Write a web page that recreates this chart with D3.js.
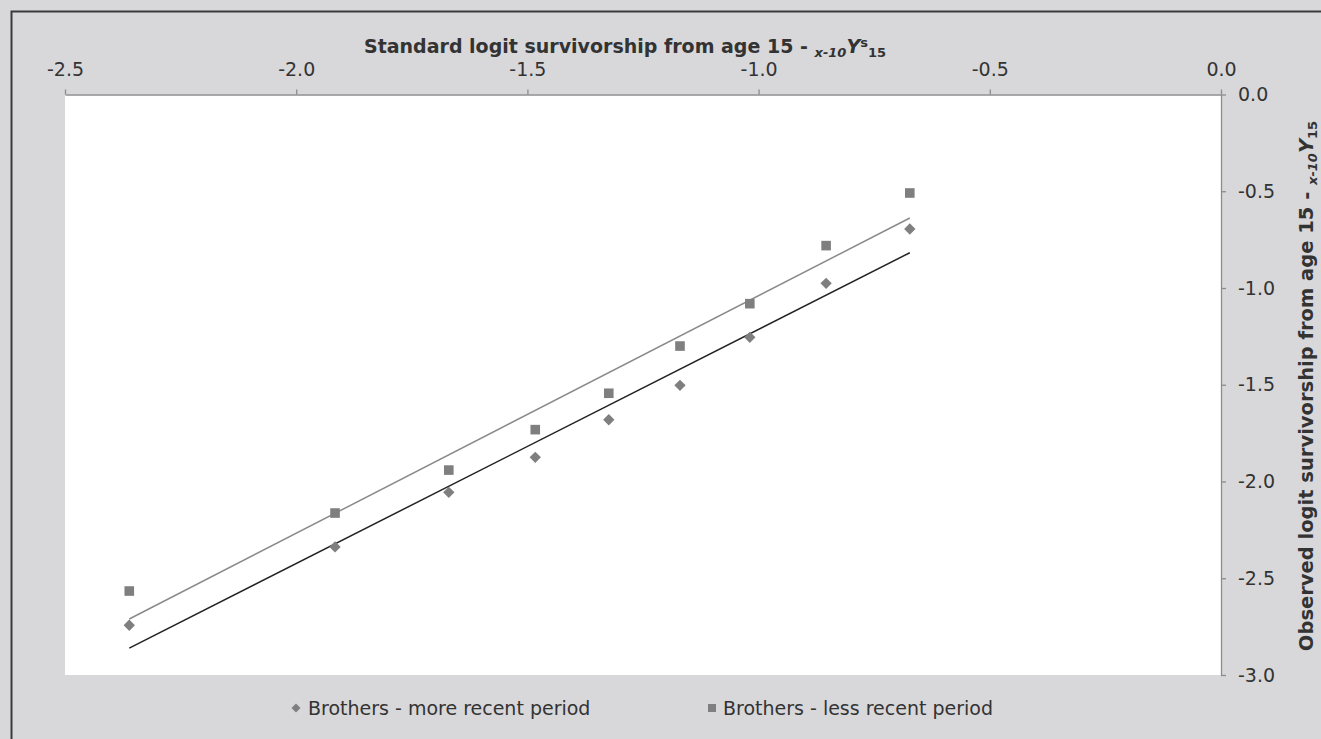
<!DOCTYPE html>
<html>
<head>
<meta charset="utf-8">
<script src="https://cdn.jsdelivr.net/npm/d3@7"></script>
<style>
  body { margin: 0; background: #ffffff; }
  text { font-family: "DejaVu Sans", Verdana, sans-serif; fill: #333333; }
</style>
</head>
<body>
<svg id="chart" width="1321" height="739"></svg>
<script>
// Standard logit survivorship from age 15 (x values shared by both series)
const stdLogit   = [-2.361, -1.916, -1.670, -1.483, -1.324, -1.170, -1.019, -0.854, -0.673];
// Observed logit survivorship from age 15
const moreRecent = [-2.743, -2.338, -2.056, -1.875, -1.681, -1.503, -1.255, -0.976, -0.695];
const lessRecent = [-2.566, -2.163, -1.941, -1.732, -1.544, -1.300, -1.081, -0.781, -0.509];
const seriesNames = ["Brothers - more recent period", "Brothers - less recent period"];
const xTicks = [-2.5, -2.0, -1.5, -1.0, -0.5, 0.0];
const yTicks = [0.0, -0.5, -1.0, -1.5, -2.0, -2.5, -3.0];

const W = 1321, H = 739;
const plot = { left: 65, right: 1221, top: 94.5, bottom: 675 };
const FS = 19;

const svg = d3.select("#chart");

// chart area background and frame
svg.append("rect").attr("x", 0).attr("y", 0).attr("width", W).attr("height", H).attr("fill", "#d8d8da");
svg.append("path")
  .attr("d", `M11.5,${H} L11.5,11.5 L${W},11.5`)
  .attr("fill", "none").attr("stroke", "#3a3a3a").attr("stroke-width", 2);

// plot area
svg.append("rect")
  .attr("x", plot.left).attr("y", plot.top)
  .attr("width", plot.right - plot.left).attr("height", plot.bottom - plot.top)
  .attr("fill", "#ffffff");

const x = d3.scaleLinear().domain([-2.5, 0]).range([plot.left, plot.right]);
const y = d3.scaleLinear().domain([-3, 0]).range([plot.bottom, plot.top]);
const fmt = d => d.toFixed(1);

// top axis
const gx = svg.append("g").attr("transform", `translate(0,${plot.top})`)
  .call(d3.axisTop(x).tickValues(xTicks).tickFormat(fmt).tickSizeInner(5).tickSizeOuter(0).tickPadding(13.5));
// right axis
const gy = svg.append("g").attr("transform", `translate(${plot.right},0)`)
  .call(d3.axisRight(y).tickValues(yTicks).tickFormat(fmt).tickSizeInner(5).tickSizeOuter(0).tickPadding(12));

[gx, gy].forEach(g => {
  g.select(".domain").attr("stroke", "#8c8c8c").attr("stroke-width", 1.3);
  g.selectAll(".tick line").attr("stroke", "#8c8c8c").attr("stroke-width", 1.3);
  g.selectAll(".tick text").attr("font-size", FS).attr("font-family", "DejaVu Sans").attr("fill", "#333");
});

// least-squares trendline
function fit(xs, ys) {
  const mx = d3.mean(xs), my = d3.mean(ys);
  let sxy = 0, sxx = 0;
  xs.forEach((v, i) => { sxy += (v - mx) * (ys[i] - my); sxx += (v - mx) * (v - mx); });
  const slope = sxy / sxx;
  return v => my + slope * (v - mx);
}
const xExt = d3.extent(stdLogit);
const series = [
  { name: seriesNames[0], ys: moreRecent, line: "#222222", marker: "diamond" },
  { name: seriesNames[1], ys: lessRecent, line: "#8a8a8a", marker: "square" }
];

series.forEach(s => {
  const f = fit(stdLogit, s.ys);
  svg.append("line")
    .attr("x1", x(xExt[0])).attr("y1", y(f(xExt[0])))
    .attr("x2", x(xExt[1])).attr("y2", y(f(xExt[1])))
    .attr("stroke", s.line).attr("stroke-width", 1.5);
});

const diamond = d3.symbol().type(d3.symbolSquare).size(64);
function drawMarker(g, type, cx, cy) {
  if (type === "square") {
    g.append("rect").attr("x", cx - 4.8).attr("y", cy - 4.8).attr("width", 9.6).attr("height", 9.6).attr("fill", "#7f7f7f");
  } else {
    g.append("path").attr("d", diamond()).attr("transform", `translate(${cx},${cy}) rotate(45)`).attr("fill", "#7f7f7f");
  }
}

series.forEach(s => {
  const g = svg.append("g");
  stdLogit.forEach((v, i) => drawMarker(g, s.marker, x(v), y(s.ys[i])));
});

// axis titles
const tTop = svg.append("text").attr("x", 625).attr("y", 53)
  .attr("text-anchor", "middle").attr("font-size", FS).attr("font-weight", "bold");
tTop.append("tspan").text("Standard logit survivorship from age 15 - ");
tTop.append("tspan").attr("font-size", 13).attr("font-style", "italic").attr("dy", 4).text("x-10");
tTop.append("tspan").attr("font-style", "italic").attr("dy", -4).text("Y");
tTop.append("tspan").attr("font-size", 13).attr("dy", -6).text("s");
tTop.append("tspan").attr("font-size", 13).attr("dy", 10).text("15");

const tRight = svg.append("text")
  .attr("transform", `translate(1313,386) rotate(-90)`)
  .attr("text-anchor", "middle").attr("font-size", 19.5).attr("font-weight", "bold");
tRight.append("tspan").text("Observed logit survivorship from age 15 - ");
tRight.append("tspan").attr("font-size", 13).attr("font-style", "italic").attr("dy", 4).text("x-10");
tRight.append("tspan").attr("font-style", "italic").attr("dy", -4).text("Y");
tRight.append("tspan").attr("font-size", 13).attr("dy", 4).text("15");

// legend
const legend = [
  { mx: 296, tx: 308 },
  { mx: 712, tx: 723 }
];
series.forEach((s, i) => {
  const g = svg.append("g");
  if (s.marker === "square") {
    g.append("rect").attr("x", legend[i].mx - 4).attr("y", 708 - 4).attr("width", 8).attr("height", 8).attr("fill", "#7f7f7f");
  } else {
    g.append("path").attr("d", d3.symbol().type(d3.symbolSquare).size(40)()).attr("transform", `translate(${legend[i].mx},708) rotate(45)`).attr("fill", "#7f7f7f");
  }
  g.append("text").attr("x", legend[i].tx).attr("y", 715).attr("font-size", FS).text(s.name);
});
</script>
</body>
</html>
